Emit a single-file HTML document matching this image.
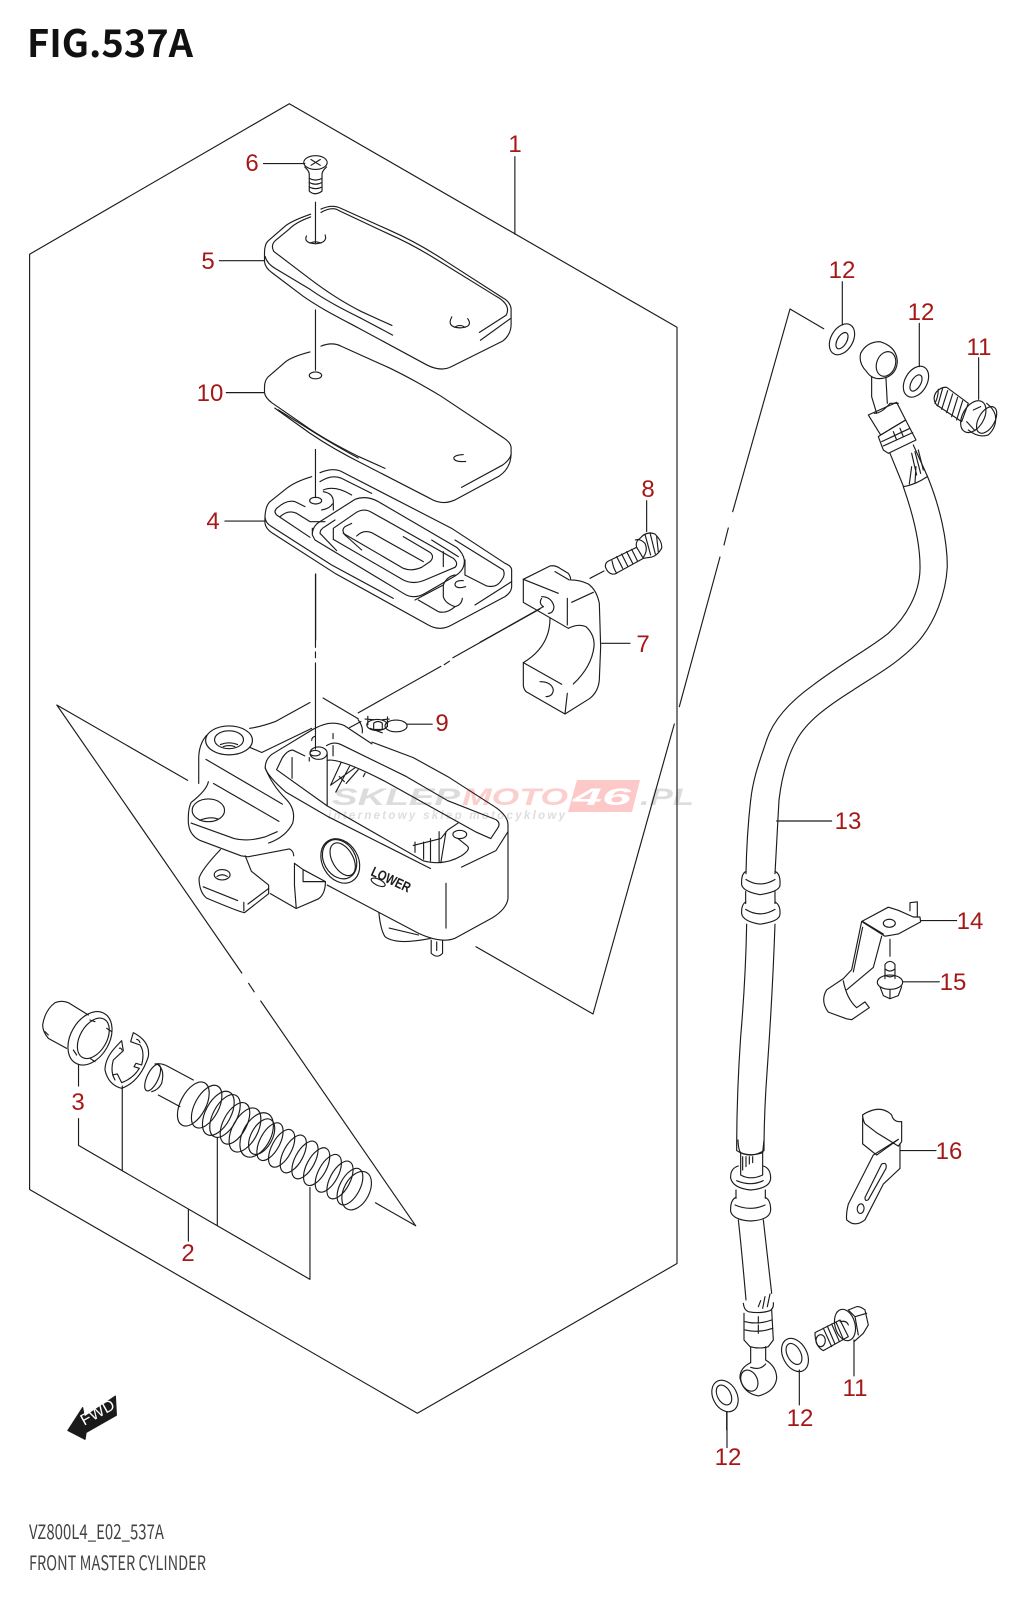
<!DOCTYPE html>
<html><head><meta charset="utf-8"><title>FIG.537A</title>
<style>
html,body{margin:0;padding:0;background:#fff}
svg{display:block}
.l path,.l line,.l ellipse,.l polyline,.l circle{fill:none;stroke:#1c1c1c;stroke-width:1.15;stroke-linejoin:round;stroke-linecap:round;vector-effect:non-scaling-stroke}
.n text{font-family:"Liberation Sans",sans-serif;font-size:24px;fill:#a61818;text-anchor:middle}
</style></head><body>
<svg width="1028" height="1600" viewBox="0 0 1028 1600" xmlns="http://www.w3.org/2000/svg">
<rect width="1028" height="1600" fill="#fff"/>
<text x="27" y="57" font-family="Noto Sans CJK JP,Liberation Sans,sans-serif" font-weight="700" font-size="38" fill="#111" textLength="166" lengthAdjust="spacingAndGlyphs">FIG.537A</text>
<text x="29" y="1539" font-family="Noto Sans CJK JP,Liberation Sans,sans-serif" font-size="20" fill="#444" textLength="135" lengthAdjust="spacingAndGlyphs">VZ800L4_E02_537A</text>
<text x="29" y="1570" font-family="Noto Sans CJK JP,Liberation Sans,sans-serif" font-size="20" fill="#444" textLength="177" lengthAdjust="spacingAndGlyphs">FRONT MASTER CYLINDER</text>

<!-- watermark -->
<g font-family="Liberation Sans,sans-serif" font-weight="700" font-style="italic">
<polygon points="577,780 640,780 632,812 568,812" fill="#fcc8c8"/>
<text x="332" y="805" font-size="24" fill="#dcdcdc" textLength="128" lengthAdjust="spacingAndGlyphs">SKLEP</text>
<text x="462" y="805" font-size="24" fill="#fccfcf" textLength="106" lengthAdjust="spacingAndGlyphs">MOTO</text>
<text x="573" y="805" font-size="24" fill="#fff" textLength="58" lengthAdjust="spacingAndGlyphs">46</text>
<text x="640" y="805" font-size="24" fill="#dcdcdc" textLength="54" lengthAdjust="spacingAndGlyphs">.PL</text>
<text x="328" y="819" font-size="11.5" fill="#dedede" textLength="237" lengthAdjust="spacing">internetowy sklep motocyklowy</text>
</g>

<g class="l">
<!-- big frame -->
<path d="M29.6 254.2L289.3 103.7L677 327.3V1263.5L417.4 1413.3L29.6 1189.5Z"/>
<!-- inner frame lines -->
<path d="M823.7 328.7L790 309L732.7 511.7M728.3 528L724 545M720 557L679.3 706.7M674.3 724L593 1014L476 946.7"/>
<path d="M187.7 780.4L56.8 705L241.8 973M248.6 983.3L254.2 991.8M260.7 1001L415.7 1225.8L375.4 1202.8"/>
<!-- hose middle join -->
<path d="M766.7 740C760 760 753 778 750.7 800M796.7 740C788 755 782 775 779 800"/>

<g transform="scale(.3444)">
 <!-- axes -->
 <path d="M916 587V705M916 900V1075M916 1305V1445"/>
 <!-- leaders -->
 <path d="M765 475H885M1495 455V680M637 757H768M657 1140H768M653 1513H768"/>
 <!-- 6 screw -->
 <ellipse cx="916" cy="472" rx="34" ry="20"/>
 <path d="M903 463L930 480M930 463L903 480"/>
 <path d="M885 485Q900 498 898 510V555Q915 570 935 555V510Q933 498 948 485"/>
 <path d="M898 518Q916 528 935 518M898 530Q916 540 935 530M898 543Q916 553 935 543"/>
 <!-- 5 cap -->
 <path d="M902 622Q850 640 830 655L778 700Q768 710 768 735V760Q770 778 790 792L880 860C930 895 980 920 1040 952L1240 1060Q1280 1080 1310 1065L1460 990Q1486 970 1484 935V895Q1480 875 1460 865L1300 762C1240 722 1180 690 1130 668L990 605Q965 592 932 607"/>
 <path d="M902 630Q860 645 840 665L800 698Q785 712 795 730L900 810C950 848 1000 880 1050 905L1138 945"/>
 <path d="M770 745Q775 765 800 780L900 840C950 875 1000 900 1050 925L1140 973"/>
 <path d="M932 617Q965 598 985 612L1130 680C1180 702 1230 730 1270 755L1440 860Q1485 885 1470 915L1392 965"/>
 <path d="M1395 988L1482 925"/>
 <path d="M890 685Q880 705 916 708Q952 705 944 682"/>
 <path d="M900 706Q916 698 932 706"/>
 <path d="M1312 920Q1295 950 1335 952Q1375 950 1358 925"/>
 <path d="M1320 950Q1335 940 1350 950"/>
 <!-- 10 gasket cover -->
 <path d="M900 1022Q850 1035 830 1050L778 1095Q768 1105 768 1125V1140Q770 1155 790 1170L880 1232C930 1268 990 1300 1040 1325L1118 1360"/>
 <path d="M932 1005Q965 992 990 1005L1130 1068C1180 1092 1230 1120 1280 1150L1460 1270Q1484 1285 1484 1300V1320Q1480 1335 1460 1350L1340 1415"/>
 <path d="M798 1185L900 1258C950 1292 1000 1320 1050 1345L1250 1448Q1285 1468 1320 1452L1450 1382Q1482 1360 1484 1320"/>
 <path d="M808 1190L900 1248C950 1280 1000 1308 1040 1330"/>
 <ellipse cx="916" cy="1090" rx="18" ry="10"/>
 <path d="M1345 1320Q1315 1322 1318 1332Q1322 1342 1352 1340"/>
</g>

<!-- 4 body seal -->
<g transform="translate(255,460) scale(.3333)">
 <path d="M170 50Q120 65 95 85L45 125Q28 140 30 190Q32 205 50 218L240 340L520 495Q555 515 590 495L750 410Q772 395 770 375V330Q770 318 750 310L590 205L260 35Q235 22 195 38"/>
 <path d="M30 172Q32 190 50 200L230 315L415 415"/>
 <path d="M350 100L260 55Q230 42 195 65"/>
 <path d="M150 140L120 125Q95 118 65 145Q55 155 65 165L165 232"/>
 <path d="M75 170Q100 148 125 160L165 185H210"/>
 <ellipse cx="182" cy="122" rx="18" ry="10"/>
 <path d="M205 95Q235 100 235 125V150M200 150Q225 145 232 132"/>
 <path d="M205 90Q240 75 290 105"/>
 <path d="M172 205V225L180 240L445 400Q475 420 510 400L600 348Q630 330 628 300Q625 280 605 262L370 125Q335 105 300 118L195 185Q172 198 172 225"/>
 <path d="M195 220Q195 208 210 200L240 180M195 220L245 272"/>
 <path d="M235 238V205L300 160Q325 142 350 157L595 295Q612 310 600 322"/>
 <path d="M235 238L445 360Q475 375 510 360L600 322"/>
 <path d="M290 190L270 200Q258 210 270 225L320 270"/>
 <path d="M265 220L445 325Q470 335 500 322L525 305Q540 290 525 277L445 230"/>
 <path d="M305 228Q325 208 350 218L505 305"/>
 <path d="M530 240L610 290M565 275V320"/>
 <path d="M600 240L745 330Q752 345 740 360Q725 385 695 378L630 345"/>
 <path d="M630 300V345"/>
 <path d="M480 420L565 375Q575 350 600 345"/>
 <path d="M625 362Q600 360 600 375Q605 388 632 380"/>
 <path d="M565 375V410Q570 430 600 440Q620 435 622 415"/>
 <path d="M490 420L550 455Q575 462 600 440"/>
 <path d="M660 435L770 365"/>
 <path d="M182 342V540"/>
</g>

<g transform="translate(0,520) scale(.3444)">
 <path d="M916 157V370M916 383V400M916 415V665"/>
 <!-- axis to clamp -->
 <path d="M1040 560L1280 425M1290 420L1305 410M1315 400L1568 258"/>
 <path d="M938 517L1040 577"/>
 <!-- clamp top -->
 <path d="M900 530L800 585Q760 600 725 605"/>
 <ellipse cx="665" cy="640" rx="68" ry="42"/>
 <ellipse cx="665" cy="638" rx="42" ry="26"/>
 <path d="M640 652Q665 642 690 652M648 658Q665 652 682 658"/>
 <path d="M600 625Q578 650 577 690V765M598 695L820 825M620 765L810 875"/>
 <path d="M605 760Q600 785 555 820Q545 840 547 880Q550 915 580 930L700 975L720 978L840 955Q852 960 853 975"/>
 <ellipse cx="605" cy="843" rx="47" ry="33"/>
 <path d="M580 872Q610 860 632 868"/>
 <path d="M555 880L680 925Q720 935 770 920L805 905"/>
 <path d="M780 938Q830 920 850 880Q860 840 830 810Q790 770 770 720Q770 695 790 680L905 610"/>
 <path d="M725 660L760 675L905 605"/>
 <!-- reservoir -->
 <path d="M905 610Q940 590 965 590Q985 590 1000 597L1080 650"/>
 <path d="M770 720Q778 745 830 790L950 860L1250 1012"/>
 <path d="M885 685L850 668Q835 668 820 690L803 725L950 830L1230 990Q1290 1005 1340 975Q1370 955 1355 945L1330 925"/>
 <path d="M948 655Q970 642 990 652L1180 745L1300 815L1440 870Q1455 880 1445 895L1425 925L1380 905L1120 760Q985 690 950 698"/>
 <path d="M1048 585L1015 603M1040 580Q1055 600 1052 618"/>
 <path d="M1080 645L1200 690L1300 745L1440 835Q1475 860 1475 885V1100Q1470 1130 1430 1155L1320 1215Q1280 1230 1215 1200L950 1060"/>
 <path d="M1340 1008L1440 960L1475 905"/>
 <path d="M967 620V635M967 655V685"/>
 <ellipse cx="925" cy="677" rx="25" ry="18"/>
 <ellipse cx="915" cy="677" rx="15" ry="8"/>
 <path d="M898 690V700M950 680V830M848 690V750M905 640Q905 630 915 628"/>
 <!-- hatching -->
 <path d="M990 705L960 770M1015 715L975 790M1040 725L1005 765M960 770L1030 720M985 745L1000 760M1060 735L1055 745"/>
 <path d="M1205 935V965M1230 935V985M1250 925V990M1275 905V995M1295 905L1280 995M1200 945L1280 925L1300 900L1330 880"/>
 <!-- sight plug -->
 <ellipse cx="988" cy="990" rx="52" ry="68" transform="rotate(-30 988 990)"/>
 <ellipse cx="986" cy="985" rx="46" ry="60" transform="rotate(-30 986 985)"/>
 <ellipse cx="995" cy="985" rx="30" ry="52" transform="rotate(-30 995 985)"/>
 <ellipse cx="1335" cy="913" rx="20" ry="12"/>
 <ellipse cx="1098" cy="1052" rx="22" ry="9" transform="rotate(25 1098 1052)"/>
 <!-- lower lug -->
 <path d="M855 997L880 1015L945 1050Q945 1085 925 1100L860 1128L785 1085"/>
 <path d="M855 997V1060L860 1125M880 1015V1050H945"/>
 <path d="M712 975L730 1020L780 1060V1085L710 1140Q700 1140 600 1098Q578 1080 578 1040Q585 1015 640 957"/>
 <path d="M590 1065L690 1105M720 1115L780 1070M708 1110V1135"/>
 <ellipse cx="645" cy="1030" rx="23" ry="15"/>
 <path d="M630 1035Q645 1025 660 1035"/>
 <!-- bottom -->
 <path d="M1100 1140Q1105 1190 1118 1210Q1150 1235 1250 1215M1130 1185L1215 1205"/>
 <path d="M1252 1220V1258Q1270 1275 1285 1258V1220M1268 1225V1250"/>
 <path d="M1295 1055V1185"/>
 <!-- 9 nut -->
 <ellipse cx="1150" cy="598" rx="32" ry="17"/>
 <ellipse cx="1095" cy="595" rx="30" ry="16"/>
 <path d="M1085 590V608H1110V590M1085 590Q1098 580 1110 590M1068 570L1068 595M1125 572V600M1060 578L1085 580M1130 578L1110 580M1075 605L1110 618"/>
 <path d="M1182 593H1255"/>
</g>

<!-- 7 clamp + 8 bolt -->
<g transform="translate(480,440) scale(.3333)">
 <path d="M130 418L210 378Q225 375 240 385L265 400Q272 410 272 420Q300 420 325 432Q350 450 358 490L362 620L358 720Q355 755 330 775L255 822L138 755Q130 745 130 735V668"/>
 <path d="M130 418V487L265 565Q295 550 318 560Q345 585 342 620Q335 680 280 732"/>
 <path d="M130 418L235 460M225 395L268 420M262 475V555M275 487L340 457"/>
 <path d="M210 535Q210 620 130 668L245 733M255 822L262 760"/>
 <path d="M185 470Q215 470 222 500Q220 520 205 520M185 475Q175 490 190 500"/>
 <path d="M180 725Q215 725 220 750Q218 770 198 770"/>
 <path d="M190 500L0 607M330 415L372 393"/>
 <!-- 8 bolt -->
 <path d="M382 365L470 322L490 355L405 402Q385 405 376 380Q376 370 382 365M396 362Q400 385 410 400"/>
 <path d="M410 350L428 385M425 342L443 378M440 335L458 370M455 328L472 362"/>
 <path d="M470 322Q465 305 480 295Q500 272 525 282Q548 305 545 325Q530 350 510 352L490 355"/>
 <path d="M466 300Q480 295 495 310Q505 330 490 352M495 283L512 345M510 278L526 342M530 290L535 335"/>
 <path d="M500 182V275M365 610H450"/>
</g>

<!-- piston parts -->
<g transform="translate(30,1000) scale(.3333)">
 <!-- 3 cup -->
 <ellipse cx="180" cy="115" rx="58" ry="86" transform="rotate(30 180 115)"/>
 <ellipse cx="190" cy="115" rx="40" ry="66" transform="rotate(30 190 115)"/>
 <path d="M110 145L55 115Q38 95 38 75Q45 30 75 8Q95 0 115 8L175 45"/>
 <path d="M45 95L55 105M130 150L140 165M180 60L195 65M230 85L245 95M180 175L195 185"/>
 <!-- circlip -->
 <path d="M275 122L258 140Q225 175 225 210Q235 255 275 265Q330 245 355 170Q362 125 310 98L302 125L330 135Q345 155 335 195L318 190L312 200L328 205Q310 235 275 248L262 222L248 225L255 240Q240 215 250 180L280 152Z"/>
 <path d="M320 118Q328 120 330 128M268 145Q272 142 276 150"/>
 <!-- rod -->
 <ellipse cx="368" cy="233" rx="17" ry="43" transform="rotate(25 368 233)"/>
 <path d="M375 192Q395 188 415 200L490 240M385 285L450 320M385 195Q405 210 395 250Q385 270 365 275"/>
 <!-- cups -->
 <ellipse cx="490" cy="312" rx="38" ry="72" transform="rotate(28 490 312)"/>
 <ellipse cx="530" cy="320" rx="36" ry="70" transform="rotate(28 530 320)"/>
 <ellipse cx="565" cy="340" rx="38" ry="72" transform="rotate(28 565 340)"/>
 <ellipse cx="585" cy="348" rx="36" ry="70" transform="rotate(28 585 348)"/>
 <ellipse cx="615" cy="370" rx="35" ry="68" transform="rotate(28 615 370)"/>
 <ellipse cx="645" cy="390" rx="38" ry="72" transform="rotate(28 645 390)"/>
 <ellipse cx="680" cy="405" rx="42" ry="72" transform="rotate(28 680 405)"/>
 <ellipse cx="695" cy="410" rx="32" ry="58" transform="rotate(28 695 410)"/>
 <!-- spring -->
 <ellipse cx="720" cy="425" rx="30" ry="62" transform="rotate(28 720 425)"/>
 <ellipse cx="755" cy="445" rx="30" ry="62" transform="rotate(28 755 445)"/>
 <ellipse cx="790" cy="462" rx="30" ry="62" transform="rotate(28 790 462)"/>
 <ellipse cx="825" cy="480" rx="30" ry="62" transform="rotate(28 825 480)"/>
 <ellipse cx="860" cy="500" rx="30" ry="62" transform="rotate(28 860 500)"/>
 <ellipse cx="895" cy="520" rx="30" ry="62" transform="rotate(28 895 520)"/>
 <ellipse cx="930" cy="540" rx="30" ry="62" transform="rotate(28 930 540)"/>
 <ellipse cx="960" cy="560" rx="30" ry="60" transform="rotate(28 960 560)"/>
 <ellipse cx="980" cy="572" rx="38" ry="62" transform="rotate(28 980 572)"/>
</g>

<g transform="translate(0,1000) scale(.3444,.3827)">
 <path d="M228 170V225M228 310V380L900 730V490M355 225V445M631 360V590M547 547V630"/>
 <path d="M197 1125L240 1065L245 1090L335 1035L338 1085L250 1130L247 1148Z" style="fill:#1a1a1a"/>
</g>

<!-- hose top -->
<g transform="translate(640,240) scale(.3333)">
 <path d="M607 125V255M838 250V380M1016 353V478"/>
 <ellipse cx="606" cy="298" rx="33" ry="50" transform="rotate(30 606 298)"/>
 <ellipse cx="606" cy="302" rx="14" ry="27" transform="rotate(30 606 302)"/>
 <ellipse cx="828" cy="425" rx="33" ry="50" transform="rotate(30 828 425)"/>
 <ellipse cx="828" cy="429" rx="14" ry="27" transform="rotate(30 828 429)"/>
 <!-- banjo -->
 <path d="M680 395Q655 370 662 340Q680 305 720 305Q770 320 772 365Q770 400 740 412Q700 425 680 395"/>
 <ellipse cx="738" cy="372" rx="28" ry="38" transform="rotate(20 738 372)"/>
 <path d="M695 410V470L710 520M738 415L742 490M703 520Q725 520 750 490L775 490"/>
 <path d="M685 525L770 487L797 540L722 585Z"/>
 <path d="M715 590L722 585L797 540L828 600L745 640L730 630L715 590"/>
 <path d="M725 605L810 565M730 618L818 578M760 575L770 600M780 565L790 590"/>
 <path d="M750 640L790 738M820 615L862 708M790 740Q825 735 862 710"/>
 <path d="M815 640L830 705M825 635L842 700M835 630L850 690M815 680L808 732M828 680L825 730"/>
 <path d="M790 740C825 840 842 920 840 990C838 1060 800 1130 745 1180C690 1225 620 1260 520 1335C450 1385 400 1440 380 1500"/>
 <path d="M862 708C900 800 922 900 922 980C918 1060 885 1150 830 1210C775 1270 700 1310 640 1350C560 1400 500 1445 470 1500"/>
 <!-- bolt 11 -->
 <path d="M920 442L985 490L965 545L890 495Q875 475 890 455Q905 440 920 442"/>
 <path d="M895 448Q895 470 885 490M908 445L893 498M923 452L905 508M938 462L920 518M953 472L935 530M968 482L950 540"/>
 <ellipse cx="1000" cy="530" rx="32" ry="52" transform="rotate(30 1000 530)"/>
 <path d="M1040 490Q1060 505 1066 525Q1072 560 1045 585Q1015 595 985 570"/>
 <ellipse cx="1040" cy="540" rx="24" ry="44" transform="rotate(30 1040 540)"/>
 <path d="M1000 510L1022 500M980 545L1005 572"/>
</g>

<!-- hose lower -->
<g transform="translate(680,800) scale(.3333,.4466)">
 <path d="M212 0Q200 80 198 165M297 0L285 165M290 47H455"/>
 <path d="M198 160Q183 165 185 190Q190 205 240 212Q300 205 300 190Q302 165 285 160M198 178Q240 198 285 178"/>
 <path d="M197 205V232M285 205V232"/>
 <path d="M197 228Q183 235 185 255Q190 272 240 278Q300 272 300 255Q302 235 285 228M197 245Q240 265 285 245"/>
 <path d="M200 278Q197 400 182 530Q170 660 170 785Q210 805 252 785Q252 700 262 600Q278 430 285 278"/>
 <!-- 14 bracket -->
 <path d="M545 272L625 240L655 247L700 262L720 262L722 273L655 300L615 305L545 272L515 380L490 400L440 425Q420 450 445 475L500 490L515 492L568 465L555 452L530 465Q500 445 490 405"/>
 <path d="M548 285L520 385M605 305L580 375L500 425M548 272L610 300"/>
 <path d="M690 248V230L712 228V262"/>
 <ellipse cx="628" cy="276" rx="18" ry="9"/>
 <path d="M722 270H830M630 312V350"/>
 <!-- 15 bolt -->
 <path d="M615 400V368Q630 355 645 368V400M615 378Q630 388 645 378M615 392Q630 400 645 392"/>
 <ellipse cx="630" cy="408" rx="38" ry="16"/>
 <path d="M600 418L610 438L630 445L655 438L665 418M630 425V445"/>
 <path d="M668 407H778"/>
 <!-- 16 bracket -->
 <path d="M548 705Q600 680 635 705Q640 722 665 720V765L655 775L590 745L555 725Q548 715 548 705V770L590 795L655 760"/>
 <path d="M660 770V825L610 860L555 940Q525 958 500 940Q498 925 505 905L580 795L655 760"/>
 <path d="M555 890L605 815Q622 810 618 825L565 895Q555 900 555 890"/>
 <ellipse cx="542" cy="915" rx="10" ry="11" transform="rotate(30 542 915)"/>
 <path d="M660 785H768"/>
 <!-- 12 leaders -->
 <path d="M141 1370V1450"/>
</g>

<g transform="translate(720,1140) scale(.3333)">
 <path d="M54 0Q55 30 62 38M132 0L128 38"/>
 <path d="M62 38V105Q92 122 128 105V38M62 38Q92 50 128 38"/>
 <path d="M68 50L68 90M78 50V80M88 50V72M98 50V68"/>
 <path d="M55 78Q30 85 32 115Q40 145 92 150Q150 145 152 115Q152 85 130 78M50 122Q92 140 130 122"/>
 <path d="M48 150V175M136 150V175"/>
 <path d="M48 172Q30 180 32 215Q40 240 92 243Q150 240 152 210Q152 180 136 172M45 195Q92 215 135 195"/>
 <path d="M55 240Q65 330 78 480M130 240L155 460"/>
 <path d="M70 490Q72 510 85 515Q120 522 150 512Q162 505 160 488"/>
 <path d="M72 520V600L90 620Q120 628 145 620L160 600L155 510"/>
 <path d="M75 545Q115 555 155 540M75 570Q115 580 158 565M115 530V550M115 555V580"/>
 <path d="M115 500L122 482M128 505L135 470M142 500L150 462"/>
 <path d="M92 620V668M137 620V660"/>
 <path d="M92 668Q58 685 60 715Q70 760 115 768Q165 755 170 715Q170 680 137 660M92 682Q120 692 137 672"/>
 <ellipse cx="88" cy="722" rx="24" ry="33" transform="rotate(-25 88 722)"/>
 <!-- washers -->
 <ellipse cx="225" cy="645" rx="36" ry="53" transform="rotate(-28 225 645)"/>
 <ellipse cx="222" cy="642" rx="20" ry="34" transform="rotate(-28 222 642)"/>
 <ellipse cx="15" cy="768" rx="36" ry="50" transform="rotate(-28 15 768)"/>
 <ellipse cx="12" cy="765" rx="20" ry="32" transform="rotate(-28 12 765)"/>
 <path d="M238 690V795M20 815V870"/>
 <!-- banjo bolt -->
 <path d="M285 578L360 540L385 590L310 632Q285 620 285 578"/>
 <ellipse cx="302" cy="602" rx="14" ry="18"/>
 <path d="M310 565L335 620M322 558L345 612M335 552L358 604M348 546L370 598"/>
 <ellipse cx="375" cy="555" rx="30" ry="48" transform="rotate(-15 375 555)"/>
 <path d="M385 510L410 500Q420 498 435 510L445 555L430 580L402 605"/>
 <path d="M385 510L405 530L415 585M405 530L440 520M360 545Q380 540 385 555"/>
 <path d="M402 600V708"/>
</g>
</g>

<!-- LOWER stamp -->
<text x="370" y="875" transform="rotate(25 370 875)" font-family="Liberation Sans,sans-serif" font-size="14" font-weight="700" fill="#1c1c1c" textLength="42" lengthAdjust="spacingAndGlyphs">LOWER</text>
<!-- FWD -->
<text x="100" y="1417" transform="rotate(-29 100 1417)" text-anchor="middle" font-family="Liberation Sans,sans-serif" font-size="16" fill="#fff">FWD</text>

<g class="n">
<text x="515" y="152">1</text>
<text x="252" y="171">6</text>
<text x="208" y="269">5</text>
<text x="210" y="401">10</text>
<text x="213" y="529">4</text>
<text x="648" y="497">8</text>
<text x="643" y="652">7</text>
<text x="442" y="731">9</text>
<text x="78" y="1110">3</text>
<text x="188" y="1261">2</text>
<text x="842" y="278">12</text>
<text x="921" y="320">12</text>
<text x="979" y="355">11</text>
<text x="848" y="829">13</text>
<text x="970" y="929">14</text>
<text x="953" y="990">15</text>
<text x="949" y="1159">16</text>
<text x="855" y="1396">11</text>
<text x="800" y="1426">12</text>
<text x="728" y="1465">12</text>
</g>
</svg>
</body></html>
